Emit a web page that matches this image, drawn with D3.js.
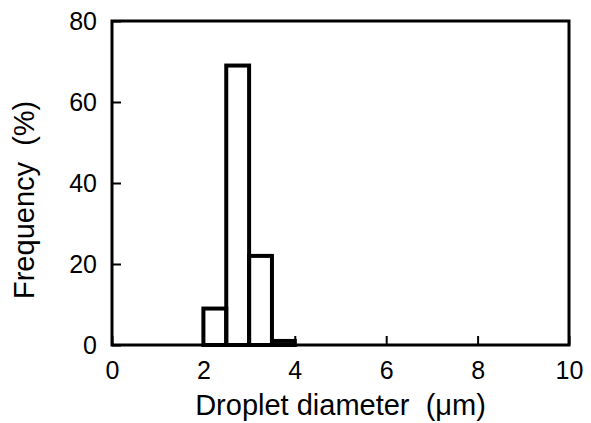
<!DOCTYPE html>
<html>
<head>
<meta charset="utf-8">
<script src="https://cdn.jsdelivr.net/npm/d3@7"></script>
<style>
  body { margin: 0; background: #fff; }
  text { font-family: "Liberation Sans", Arial, Helvetica, sans-serif; }
</style>
</head>
<body>
<svg></svg>
<script>
// histogram bins (um) and frequency (%)
const binStarts = [2.0, 2.5, 3.0, 3.5];
const binWidth = 0.5;
const frequency = [9, 69, 22, 1];
const xTicks = [0, 2, 4, 6, 8, 10];
const yTicks = [0, 20, 40, 60, 80];

let width = 591;
let height = 423;
let xLeft = 112, xRight = 569, yTop = 21, yBottom = 345;

const svg = d3.select("svg")
  .attr("width", width)
  .attr("height", height);

const xScale = d3.scaleLinear().domain([0, 10]).range([xLeft, xRight]);
const yScale = d3.scaleLinear().domain([0, 80]).range([yBottom, yTop]);

const xAxis = d3.axisBottom(xScale)
  .tickValues(xTicks)
  .tickSizeInner(-9)
  .tickSizeOuter(0)
  .tickPadding(16);

const yAxis = d3.axisLeft(yScale)
  .tickValues(yTicks)
  .tickSizeInner(-9)
  .tickSizeOuter(0)
  .tickPadding(15);

const gx = svg.append("g")
  .attr("transform", `translate(0, ${yBottom})`)
  .call(xAxis);

const gy = svg.append("g")
  .attr("transform", `translate(${xLeft}, 0)`)
  .call(yAxis);

[gx, gy].forEach(g => {
  g.select(".domain").remove();
  g.selectAll(".tick line").attr("stroke", "#000").attr("stroke-width", 2);
  g.selectAll(".tick text")
    .attr("fill", "#000")
    .style("font-size", "25px");
});

// frame
svg.append("rect")
  .attr("x", xLeft)
  .attr("y", yTop)
  .attr("width", xRight - xLeft)
  .attr("height", yBottom - yTop)
  .attr("fill", "none")
  .attr("stroke", "#000")
  .attr("stroke-width", 3);

// bars as outlines
svg.selectAll("rect.bar")
  .data(frequency)
  .enter()
  .append("rect")
  .attr("class", "bar")
  .attr("x", (d, i) => xScale(binStarts[i]))
  .attr("y", d => yScale(d))
  .attr("width", (d, i) => xScale(binStarts[i] + binWidth) - xScale(binStarts[i]))
  .attr("height", d => yScale(0) - yScale(d))
  .attr("fill", "none")
  .attr("stroke", "#000")
  .attr("stroke-width", 4);

svg.append("text")
  .attr("x", (xLeft + xRight) / 2)
  .attr("y", 415)
  .attr("text-anchor", "middle")
  .style("font-size", "29px")
  .style("white-space", "pre")
  .text("Droplet diameter  (\u03bcm)");

svg.append("text")
  .attr("transform", "translate(34, 299) rotate(-90)")
  .attr("text-anchor", "start")
  .style("font-size", "29px")
  .style("white-space", "pre")
  .text("Frequency  (%)");
</script>
</body>
</html>
